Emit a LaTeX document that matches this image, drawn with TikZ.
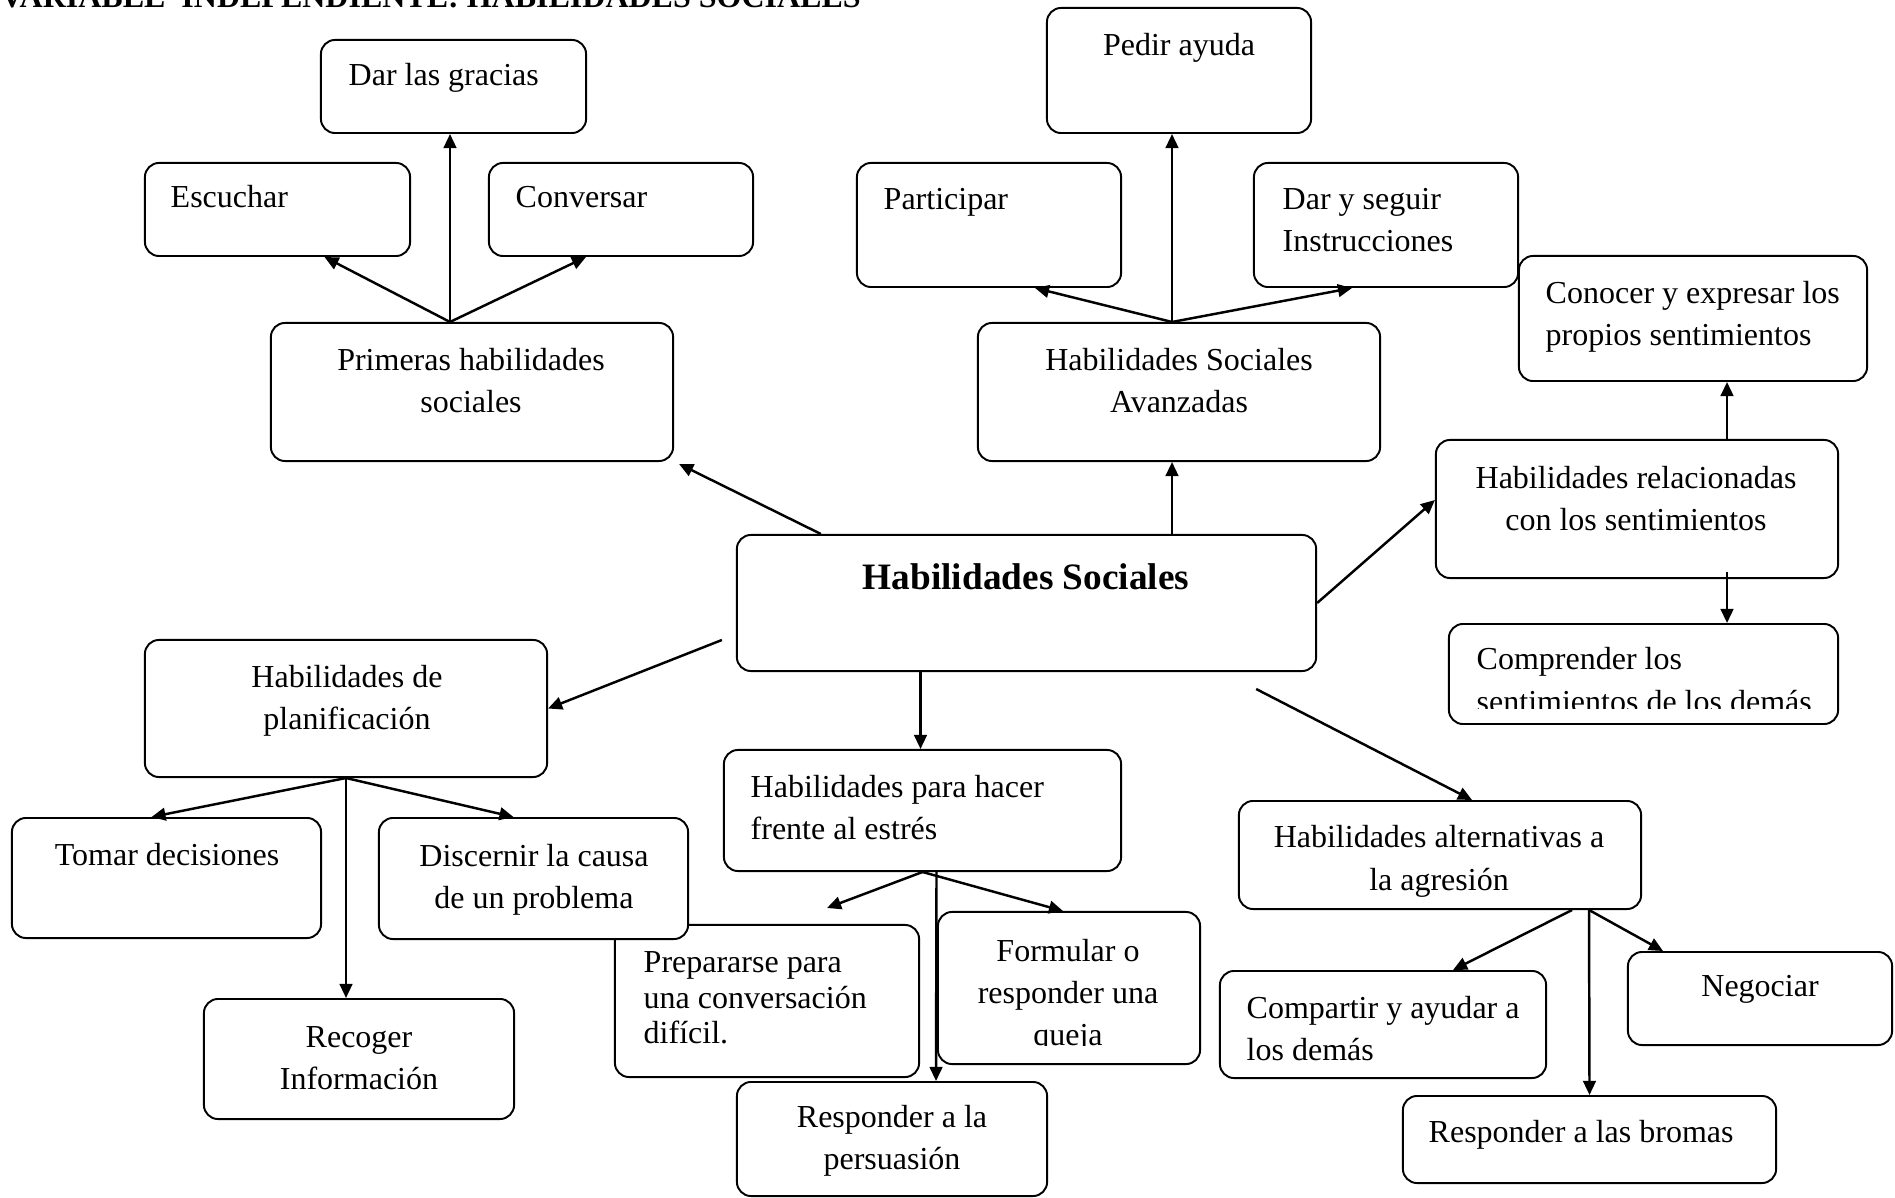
\documentclass[tikz,border=0pt]{standalone}
\usepackage{fontspec}
\setmainfont{Liberation Serif}
\usepackage{tikz}
\usetikzlibrary{calc,arrows.meta}
\definecolor{ink}{HTML}{000000}
\definecolor{paper}{HTML}{FFFFFF}
\tikzset{
  box/.style={draw=ink, fill=paper, line width=0.55pt, rounded corners=4pt, inner sep=0pt},
  arr/.style={draw=ink, line width=0.7pt, -{Triangle[length=4pt,width=3.6pt]}},
  txt/.style={text=ink, inner sep=0pt, font=\fontsize{9.1}{12}\selectfont,
    execute at begin node={\rule{0pt}{8.4pt}}},
  txtl/.style={txt, anchor=north west, align=left},
  txtc/.style={txt, anchor=north, align=center},
}

\begin{document}
\begin{tikzpicture}[x=0.01cm,y=-0.01cm]
  \fill[paper] (0,0) rectangle (1895,1198);
  \useasboundingbox (0,0) rectangle (1895,1198);

  \node[txt, anchor=base west, font=\bfseries\fontsize{9.1}{12}\selectfont] (title) at (0,8)
    {VARIABLE\ \ INDEPENDIENTE: HABILIDADES SOCIALES};

  % first skills
  \node[box, minimum width=2.65cm, minimum height=0.93cm] (gracias) at (453.5,86.5) {};
  \node[box, minimum width=2.65cm, minimum height=0.93cm] (escuchar) at (277.5,209.5) {};
  \node[box, minimum width=2.64cm, minimum height=0.93cm] (conversar) at (621,209.5) {};
  \node[box, minimum width=4.02cm, minimum height=1.38cm] (primeras) at (472,392) {};
  \node[txtl] (gracias-t) at (348,55.5) {Dar las gracias};
  \node[txtl] (escuchar-t) at (170,177) {Escuchar};
  \node[txtl] (conversar-t) at (515,177) {Conversar};
  \node[txtc] (primeras-t) at (471,347.5) {Primeras habilidades\\sociales};

  % advanced skills
  \node[box, minimum width=2.64cm, minimum height=1.25cm] (pedir) at (1179,70.5) {};
  \node[box, minimum width=2.64cm, minimum height=1.24cm] (participar) at (989,225) {};
  \node[box, minimum width=2.64cm, minimum height=1.24cm] (instrucciones) at (1386,225) {};
  \node[box, minimum width=4.02cm, minimum height=1.38cm] (avanzadas) at (1179,392) {};
  \node[txtc] (pedir-t) at (1179,25) {Pedir ayuda};
  \node[txtl] (participar-t) at (883,179) {Participar};
  \node[txtl] (instrucciones-t) at (1282,187.5) {Dar y seguir\\Instrucciones};
  \node[txtc] (avanzadas-t) at (1179,347.5) {Habilidades Sociales\\Avanzadas};

  % feelings
  \node[box, minimum width=3.48cm, minimum height=1.25cm] (conocer) at (1693,318.5) {};
  \node[box, minimum width=4.02cm, minimum height=1.38cm] (relacion) at (1637,509) {};
  \node[box, minimum width=3.89cm, minimum height=1.00cm] (comprender) at (1643.5,674) {};
  \node[txtl] (conocer-t) at (1545,280.5) {Conocer y expresar los\\propios sentimientos};
  \node[txtc] (relacion-t) at (1636,465.5) {Habilidades relacionadas\\con los sentimientos};
  \begin{scope}
    \clip (comprender.north west) rectangle ($(comprender.south east)+(0,-16)$);
    \node[txtl] (comprender-t) at (1476,647) {Comprender los\\sentimientos de los demás};
  \end{scope}

  % centre
  \node[box, minimum width=5.79cm, minimum height=1.36cm] (central) at (1026.5,603) {};
  \node[txtc, font=\bfseries\fontsize{10.6}{14}\selectfont] (central-t) at (1026,559.5) {Habilidades Sociales};

  % planning
  \node[box, minimum width=4.02cm, minimum height=1.37cm] (planif) at (346,708.5) {};
  \node[box, minimum width=3.04cm, minimum height=1.52cm] (prep) at (767,1001) {};
  \node[box, minimum width=3.09cm, minimum height=1.20cm] (tomar) at (166.5,878) {};
  \node[box, minimum width=3.09cm, minimum height=1.21cm] (discernir) at (533.5,878.5) {};
  \node[box, minimum width=3.10cm, minimum height=1.20cm] (recoger) at (359,1059) {};
  \node[txtc] (planif-t) at (347,664.5) {Habilidades de\\planificación};
  \node[txtc] (tomar-t) at (167,835) {Tomar decisiones};
  \node[txtc] (discernir-t) at (534,843.5) {Discernir la causa\\de un problema};
  \node[txtc] (recoger-t) at (359,1025.5) {Recoger\\Información};

  % stress
  \node[box, minimum width=3.97cm, minimum height=1.21cm] (estres) at (922.5,810.5) {};
  \node[box, minimum width=2.62cm, minimum height=1.52cm] (formular) at (1069,988) {};
  \node[box, minimum width=3.10cm, minimum height=1.14cm] (persuasion) at (892,1139) {};
  \node[txtl] (estres-t) at (750,774.5) {Habilidades para hacer\\frente al estrés};
  \node[txtl, font=\fontsize{9.1}{10.1}\selectfont] (prep-t) at (643,951)
    {Prepararse para\\una conversación\\difícil.};
  \begin{scope}
    \clip (formular.north west) rectangle ($(formular.south east)+(0,-20)$);
    \node[txtc] (formular-t) at (1068,938.5) {Formular o\\responder una\\queja};
  \end{scope}
  \node[txtc] (persuasion-t) at (892,1104.5) {Responder a la\\persuasión};

  % aggression
  \node[box, minimum width=4.02cm, minimum height=1.08cm] (altern) at (1440,855) {};
  \node[box, minimum width=3.26cm, minimum height=1.07cm] (compartir) at (1383,1024.5) {};
  \node[box, minimum width=2.64cm, minimum height=0.93cm] (negociar) at (1760,998.5) {};
  \node[box, minimum width=3.73cm, minimum height=0.87cm] (bromas) at (1589.5,1139.5) {};
  \node[txtc] (altern-t) at (1439,825) {Habilidades alternativas a\\la agresión};
  \node[txtl] (compartir-t) at (1246,995.5) {Compartir y ayudar a\\los demás};
  \node[txtc] (negociar-t) at (1760,966) {Negociar};
  \node[txtl] (bromas-t) at (1428,1112) {Responder a las bromas};

  % connectors
  \draw[arr] ($(primeras.north -| gracias.south)+(-3.5,0)$) -- ($(gracias.south)+(-3.5,0)$);
  \draw[arr] ($(primeras.north -| gracias.south)+(-3.5,0)$) -- ($(escuchar.south)+(47,0)$);
  \draw[arr] ($(primeras.north -| gracias.south)+(-3.5,0)$) -- ($(conversar.south)+(-35,0)$);
  \draw[arr] ($(central.north west)+(85,0)$) -- ($(primeras.south east)+(5,2)$);

  \draw[arr] ($(avanzadas.south |- central.north)+(-7,0)$) -- ($(avanzadas.south)+(-7,0)$);
  \draw[arr] ($(avanzadas.north)+(-7,0)$) -- ($(pedir.south)+(-7,0)$);
  \draw[arr] ($(avanzadas.north)+(-7,0)$) -- ($(participar.south)+(46,0)$);
  \draw[arr] ($(avanzadas.north)+(-7,0)$) -- ($(instrucciones.south)+(-34,0)$);

  \draw[arr] (central.east) -- ($(relacion.west)+(0,-9)$);
  \draw[arr] ($(relacion.north)+(90,0)$) -- ($(conocer.south)+(34,0)$);
  \draw[arr] ($(relacion.south)+(90,-7)$) -- ($(comprender.north)+(83.5,0)$);

  \draw[arr] ($(central.west)+(-14,37)$) -- (planif.east);
  \draw[arr] (planif.south) -- ($(tomar.north)+(-15,0)$);
  \draw[arr] (planif.south) -- (planif.south |- recoger.north);
  \draw[arr] (planif.south) -- ($(discernir.north)+(-20,0)$);

  \draw[arr] ($(estres.north |- central.south)+(-2,0)$) -- ($(estres.north)+(-2,0)$);
  \draw[arr] (estres.south) -- ($(prep.north)+(60,-16)$);
  \draw[arr] (estres.south) -- ($(formular.north)+(-6,0)$);
  \draw[arr] ($(estres.south)+(14,0)$) -- ($(persuasion.north)+(44,0)$);

  \draw[arr] ($(central.south east)+(-61,17)$) -- ($(altern.north)+(32,0)$);
  \draw[arr] ($(altern.south)+(132,0)$) -- ($(compartir.north)+(70,0)$);
  \draw[arr] ($(altern.south)+(149,0)$) -- (bromas.north);
  \draw[arr] ($(altern.south)+(149,0)$) -- ($(negociar.north)+(-97,0)$);
\end{tikzpicture}
\end{document}
